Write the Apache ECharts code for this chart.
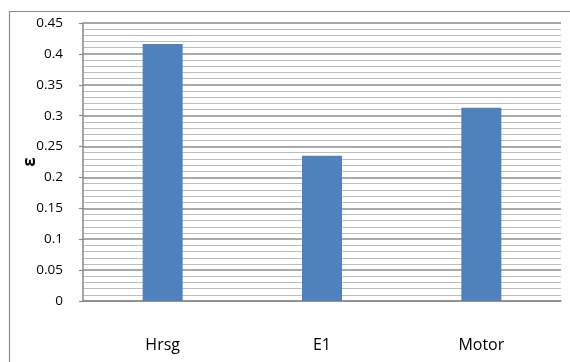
<!DOCTYPE html>
<html>
<head>
<meta charset="utf-8">
<script src="https://cdn.jsdelivr.net/npm/echarts@6/dist/echarts.min.js"></script>
<style>
  html, body { margin: 0; padding: 0; background: #ffffff; }
  #chart { width: 570px; height: 362px; }
</style>
</head>
<body>
<div id="chart"></div>
<script>
// Effectiveness per component
const categories = ['Hrsg', 'E1', 'Motor'];
const epsilonValues = [0.416, 0.235, 0.313];
const yTicks = [0, 0.05, 0.1, 0.15, 0.2, 0.25, 0.3, 0.35, 0.4, 0.45];

const chart = echarts.init(document.getElementById('chart'), null, { renderer: 'canvas' });
const font = 'Open Sans, Noto Sans, sans-serif';

chart.setOption({
  animation: false,
  backgroundColor: '#ffffff',
  graphic: [{
    type: 'rect',
    shape: { x: 9.5, y: 11.5, width: 600, height: 400 },
    style: { fill: 'none', stroke: '#8c8c8c', lineWidth: 1.2 },
    silent: true,
    z: -10
  }],
  grid: { left: 83, right: 9, top: 23, bottom: 61, containLabel: false },
  xAxis: {
    type: 'category',
    data: categories,
    axisLine: { show: true, lineStyle: { color: '#8a8a8a', width: 1.5 } },
    axisTick: { show: false },
    axisLabel: { color: '#000000', fontSize: 16, fontFamily: font, margin: 36 },
    splitLine: { show: false }
  },
  yAxis: {
    type: 'value',
    min: yTicks[0],
    max: yTicks[yTicks.length - 1],
    interval: 0.05,
    name: 'ε',
    nameLocation: 'middle',
    nameGap: 44,
    nameMoveOverlap: false,
    nameRotate: 90,
    nameTextStyle: { color: '#000000', fontSize: 17, fontWeight: 'bold', fontFamily: font },
    axisLine: { show: true, lineStyle: { color: '#8a8a8a', width: 1.5 } },
    axisTick: { show: true, length: 4, lineStyle: { color: '#8a8a8a', width: 1.2 } },
    axisLabel: {
      color: '#000000', fontSize: 13.5, fontFamily: font, margin: 20,
      formatter: v => String(parseFloat(v.toFixed(2)))
    },
    splitLine: { show: true, lineStyle: { color: '#8c8c8c', width: 1.5 } },
    minorTick: { show: false, splitNumber: 5 },
    minorSplitLine: { show: true, lineStyle: { color: '#bdbdbd', width: 1.2 } }
  },
  series: [{
    type: 'bar',
    data: epsilonValues,
    barWidth: 40,
    itemStyle: { color: '#4f81bd' },
    z: 3
  }]
});
</script>
</body>
</html>
